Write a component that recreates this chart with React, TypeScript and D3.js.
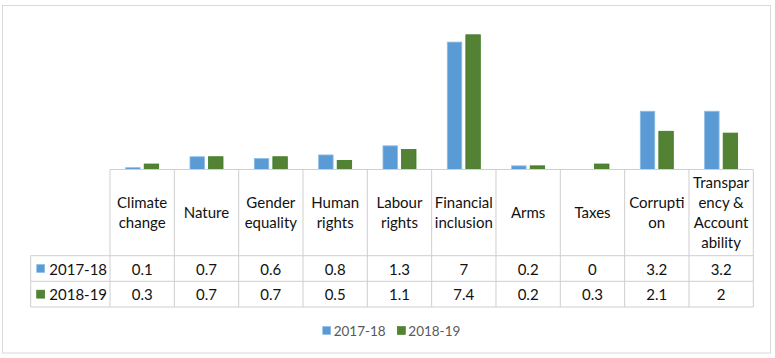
import * as d3 from "d3";
import React from "react";

const categories = [
  ["Climate", "change"],
  ["Nature"],
  ["Gender", "equality"],
  ["Human", "rights"],
  ["Labour", "rights"],
  ["Financial", "inclusion"],
  ["Arms"],
  ["Taxes"],
  ["Corrupti", "on"],
  ["Transpar", "ency &", "Account", "ability"],
];

const seriesNames = ["2017-18", "2018-19"];
const values1718 = [0.1, 0.7, 0.6, 0.8, 1.3, 7, 0.2, 0, 3.2, 3.2];
const values1819 = [0.3, 0.7, 0.7, 0.5, 1.1, 7.4, 0.2, 0.3, 2.1, 2];
const seriesValues = [values1718, values1819];
const seriesFill = ["#5b9bd5", "#548235"];
const seriesStroke = ["#8cbbe6", "#3b7a1e"];

const width = 775;
const height = 358;
const font = "Lato, 'Noto Sans', sans-serif";
const gridColor = "#cfcfcf";

const tableLeft = 110;
const tableRight = 753.3;
const baseY = 169.5;
const headerBottom = 255.7;
const row1Bottom = 281.3;
const row2Bottom = 307;
const legendColLeft = 30.7;

const App: React.FC = () => {
  const keys = categories.map((c) => c.join(" "));
  const x = d3.scaleBand<string>().domain(keys).range([tableLeft, tableRight]).padding(0);
  const bw = x.bandwidth();
  const groupW = 33;
  const x1 = d3
    .scaleBand<string>()
    .domain(seriesNames)
    .range([(bw - groupW) / 2, (bw + groupW) / 2])
    .paddingInner(0.22);
  const y = d3.scaleLinear().domain([0, 8]).range([baseY, baseY - 8 * 18.2]);

  const rowTops = [headerBottom, row1Bottom];
  const rowBottoms = [row1Bottom, row2Bottom];

  return (
    <svg
      width={width}
      height={height}
      style={{ position: "absolute", left: 0, top: 0, background: "#fff" }}
      fontFamily={font}
    >
      {/* chart area border */}
      <rect x={2.5} y={5.5} width={768} height={347.5} fill="#fff" stroke="#d9d9d9" strokeWidth={1} />

      {/* bars */}
      {seriesNames.map((s, si) => (
        <g key={s}>
          {keys.map((k, i) => {
            const v = seriesValues[si][i];
            if (v <= 0) return null;
            const bx = (x(k) ?? 0) + (x1(s) ?? 0);
            return (
              <rect
                key={k}
                x={bx}
                y={y(v)}
                width={x1.bandwidth()}
                height={baseY - y(v)}
                fill={seriesFill[si]}
                stroke={seriesStroke[si]}
                strokeWidth={0.8}
              />
            );
          })}
        </g>
      ))}

      {/* data table grid */}
      <g stroke={gridColor} strokeWidth={1} fill="none">
        <line x1={tableLeft} x2={tableRight} y1={baseY} y2={baseY} />
        <line x1={legendColLeft} x2={tableRight} y1={headerBottom} y2={headerBottom} />
        <line x1={legendColLeft} x2={tableRight} y1={row1Bottom} y2={row1Bottom} />
        <line x1={legendColLeft} x2={tableRight} y1={row2Bottom} y2={row2Bottom} />
        <line x1={legendColLeft} x2={legendColLeft} y1={headerBottom} y2={row2Bottom} />
        {keys.map((k) => (
          <line key={k} x1={x(k)} x2={x(k)} y1={baseY} y2={row2Bottom} />
        ))}
        <line x1={tableRight} x2={tableRight} y1={baseY} y2={row2Bottom} />
      </g>

      {/* header labels */}
      <g fontSize={15} fill="#111" textAnchor="middle">
        {categories.map((lines, i) => {
          const cx = (x(keys[i]) ?? 0) + bw / 2;
          const cy = (baseY + headerBottom) / 2 - 0.5;
          return (
            <text key={keys[i]} x={cx} dominantBaseline="central">
              {lines.map((ln, li) => (
                <tspan key={li} x={cx} y={cy + (li - (lines.length - 1) / 2) * 20}>
                  {ln}
                </tspan>
              ))}
            </text>
          );
        })}
      </g>

      {/* values rows */}
      {seriesNames.map((s, si) => {
        const cy = (rowTops[si] + rowBottoms[si]) / 2;
        return (
          <g key={s} fontSize={15} fill="#111">
            <rect x={36.7} y={cy - 4} width={8} height={8} fill={seriesFill[si]} stroke={seriesStroke[si]} strokeWidth={0.6} />
            <text x={49.3} y={cy} dominantBaseline="central">
              {s}
            </text>
            {keys.map((k, i) => (
              <text key={k} x={(x(k) ?? 0) + bw / 2} y={cy} textAnchor="middle" dominantBaseline="central">
                {seriesValues[si][i]}
              </text>
            ))}
          </g>
        );
      })}

      {/* legend */}
      {seriesNames.map((s, si) => {
        const lx = [322.7, 397.3][si];
        return (
          <g key={s}>
            <rect x={lx} y={326.5} width={8} height={8} fill={seriesFill[si]} stroke={seriesStroke[si]} strokeWidth={0.6} />
            <text x={lx + 11} y={330.5} fontSize={13.5} fill="#595959" dominantBaseline="central">
              {s}
            </text>
          </g>
        );
      })}
    </svg>
  );
};

export default App;
